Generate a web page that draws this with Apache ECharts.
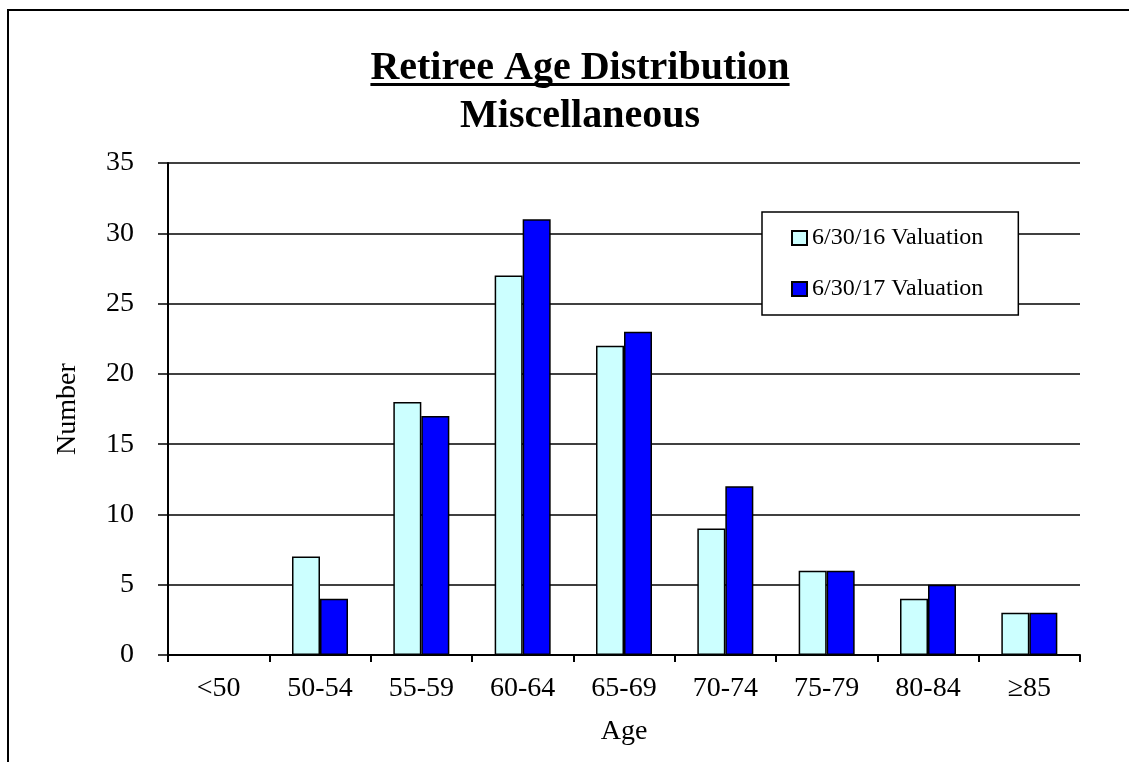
<!DOCTYPE html>
<html>
<head>
<meta charset="utf-8">
<title>Retiree Age Distribution</title>
<script src="https://cdn.jsdelivr.net/npm/echarts@6/dist/echarts.min.js"></script>
<style>
  html, body { margin: 0; padding: 0; background: #fff; }
  #chart { width: 1129px; height: 762px; }
</style>
</head>
<body>
<div id="chart"></div>
<script>
// Age bands and retiree counts per valuation date
const ageBands = ['<50', '50-54', '55-59', '60-64', '65-69', '70-74', '75-79', '80-84', '\u226585'];
const valuation2016 = [0, 7, 18, 27, 22, 9, 6, 4, 3];
const valuation2017 = [0, 4, 17, 31, 23, 12, 6, 5, 3];
const seriesNames = ['6/30/16 Valuation', '6/30/17 Valuation'];
const yTicks = { min: 0, max: 35, interval: 5 };

const titleText = 'Retiree Age Distribution';
const subtitleText = 'Miscellaneous';
const FONT = "'Liberation Serif', 'Times New Roman', serif";

// measure the title so its underline fits the text
const ctx = document.createElement('canvas').getContext('2d');
ctx.font = "bold 40px " + FONT;
const titleWidth = ctx.measureText(titleText).width;
const subtitleWidth = ctx.measureText(subtitleText).width;
const titleCx = 580;

const chart = echarts.init(document.getElementById('chart'), null, { renderer: 'canvas' });

const barStyle = (color) => ({ color: color, borderColor: '#000', borderWidth: 1.5 });

chart.setOption({
  backgroundColor: '#fff',
  animation: false,
  textStyle: { fontFamily: FONT, color: '#000' },
  graphic: [
    // frame lines along top and left
    { type: 'rect', shape: { x: 7, y: 9, width: 1122, height: 2 }, style: { fill: '#000' }, silent: true },
    { type: 'rect', shape: { x: 7, y: 9, width: 2, height: 753 }, style: { fill: '#000' }, silent: true },
    {
      type: 'text', left: titleCx - titleWidth / 2, top: 49,
      style: { text: titleText, font: "bold 40px " + FONT, fill: '#000' }
    },
    {
      type: 'rect', shape: { x: titleCx - titleWidth / 2, y: 83, width: titleWidth, height: 3 },
      style: { fill: '#000' }, silent: true
    },
    {
      type: 'text', left: titleCx - subtitleWidth / 2, top: 97,
      style: { text: subtitleText, font: "bold 40px " + FONT, fill: '#000' }
    }
  ],
  legend: {
    orient: 'vertical',
    left: 762,
    top: 212,
    padding: [14, 35, 14, 29],
    icon: 'rect',
    itemWidth: 15,
    itemHeight: 14,
    itemGap: 27,
    borderColor: '#000',
    borderWidth: 1.5,
    backgroundColor: '#fff',
    textStyle: { fontFamily: FONT, fontSize: 24, color: '#000' },
    data: seriesNames
  },
  grid: { left: 168, right: 49, top: 163, bottom: 107 },
  xAxis: {
    type: 'category',
    data: ageBands,
    name: 'Age',
    nameLocation: 'middle',
    nameGap: 63,
    nameTextStyle: { fontFamily: FONT, fontSize: 28, color: '#000' },
    axisLine: { lineStyle: { color: '#000', width: 2 } },
    axisTick: { show: true, length: 7, inside: false, lineStyle: { color: '#000', width: 2 } },
    axisLabel: { fontFamily: FONT, fontSize: 28, color: '#000', margin: 20, interval: 0 },
    splitLine: { show: false }
  },
  yAxis: {
    type: 'value',
    min: yTicks.min,
    max: yTicks.max,
    interval: yTicks.interval,
    name: 'Number',
    nameLocation: 'middle',
    nameGap: 86,
    nameRotate: 90,
    nameTextStyle: { fontFamily: FONT, fontSize: 28, color: '#000' },
    axisLine: { show: true, lineStyle: { color: '#000', width: 2 } },
    axisTick: { show: true, length: 10, inside: false, lineStyle: { color: '#000', width: 1.5 } },
    axisLabel: { fontFamily: FONT, fontSize: 28, color: '#000', margin: 34 },
    splitLine: { show: true, lineStyle: { color: '#000', width: 1.5 } }
  },
  series: [
    {
      name: seriesNames[0],
      type: 'bar',
      data: valuation2016,
      barWidth: 28,
      barGap: '0%',
      itemStyle: barStyle('#CCFFFF'),
      z: 3
    },
    {
      name: seriesNames[1],
      type: 'bar',
      data: valuation2017,
      barWidth: 28,
      barGap: '0%',
      itemStyle: barStyle('#0000FF'),
      z: 3
    }
  ]
});
</script>
</body>
</html>
